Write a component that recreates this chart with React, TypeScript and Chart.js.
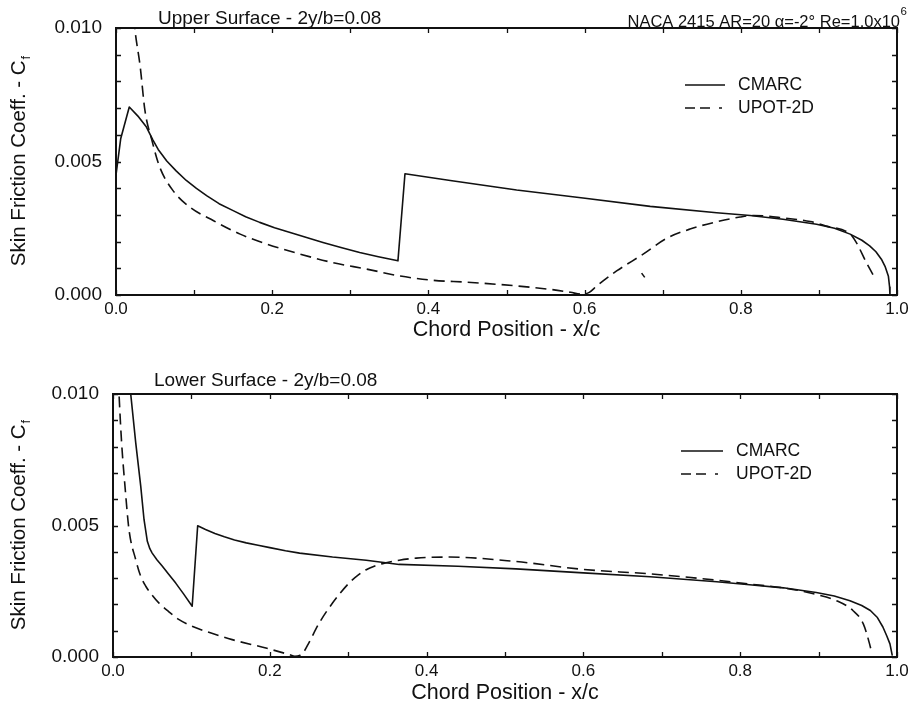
import React, { useEffect, useRef } from "react";
import { Chart, registerables } from "chart.js";

Chart.register(...registerables);

// ------------------------------------------------------------------ data
const xTickValues = [0, 0.2, 0.4, 0.6, 0.8, 1.0];
const yTickValues = [0, 0.005, 0.01];
const xMinorTickValues = [0, 0.1, 0.2, 0.3, 0.4, 0.5, 0.6, 0.7, 0.8, 0.9, 1.0];
const yMinorTickValues = [0, 0.001, 0.002, 0.003, 0.004, 0.005, 0.006, 0.007, 0.008, 0.009, 0.01];

const seriesNames = ["CMARC", "UPOT-2D"];
const upperTitle = "Upper Surface - 2y/b=0.08";
const lowerTitle = "Lower Surface - 2y/b=0.08";
const caseTitle = "NACA 2415 AR=20 α=-2° Re=1.0x10";
const caseTitleSup = "6";
const xAxisTitle = "Chord Position - x/c";
const yAxisTitle = "Skin Friction Coeff. - C";
const yAxisTitleSub = "f";

// Upper surface, CMARC
const upperCmarcX = [0.0, 0.006, 0.017, 0.029, 0.039, 0.047, 0.054, 0.065, 0.077, 0.09, 0.103, 0.116, 0.132, 0.15, 0.166, 0.184, 0.203, 0.223, 0.244, 0.265, 0.288, 0.312, 0.336, 0.361, 0.37, 0.428, 0.513, 0.598, 0.684, 0.769, 0.812, 0.854, 0.897, 0.92, 0.94, 0.955, 0.965, 0.973, 0.98, 0.985, 0.989, 0.9905, 0.991];
const upperCmarcY = [0.0045, 0.00585, 0.00704, 0.00667, 0.00629, 0.00582, 0.00545, 0.00502, 0.00465, 0.00429, 0.00399, 0.00372, 0.00342, 0.00316, 0.00293, 0.00272, 0.00252, 0.00234, 0.00215, 0.00197, 0.00178, 0.00159, 0.00143, 0.00128, 0.00454, 0.00429, 0.00393, 0.00363, 0.00332, 0.00308, 0.00298, 0.00284, 0.00265, 0.0025, 0.00228, 0.00205, 0.00184, 0.00162, 0.00134, 0.00105, 0.0007, 0.0003, 0.0];

// Upper surface, UPOT-2D (last two points: short isolated dash)
const upperUpotX = [0.021, 0.024, 0.031, 0.037, 0.046, 0.056, 0.073, 0.095, 0.125, 0.159, 0.193, 0.236, 0.278, 0.321, 0.364, 0.406, 0.45, 0.513, 0.556, 0.582, 0.596, 0.606, 0.616, 0.641, 0.675, 0.705, 0.735, 0.769, 0.799, 0.816, 0.854, 0.889, 0.91, 0.94, 0.948, 0.961, 0.972, 0.675, 0.673, 0.677];
const upperUpotY = [0.011, 0.01, 0.00855, 0.00692, 0.00579, 0.00479, 0.00391, 0.00328, 0.00278, 0.00228, 0.00191, 0.00153, 0.00121, 0.00097, 0.00071, 0.00055, 0.00048, 0.00034, 0.00021, 0.0001, 0.00003, 0.0001, 0.00035, 0.0009, 0.00153, 0.00212, 0.00247, 0.00274, 0.00292, 0.00298, 0.00289, 0.00275, 0.00258, 0.00228, 0.00196, 0.0012, 0.00062, null, 0.00082, 0.00066];

// Lower surface, CMARC
const lowerCmarcX = [0.02, 0.0226, 0.029, 0.0354, 0.0396, 0.0438, 0.047, 0.05, 0.056, 0.063, 0.071, 0.08, 0.09, 0.101, 0.108, 0.118, 0.13, 0.142, 0.155, 0.17, 0.185, 0.2, 0.22, 0.238, 0.28, 0.323, 0.365, 0.44, 0.514, 0.6, 0.685, 0.77, 0.812, 0.855, 0.897, 0.92, 0.94, 0.955, 0.966, 0.975, 0.982, 0.987, 0.991, 0.994];
const lowerCmarcY = [0.0112, 0.01, 0.00814, 0.00649, 0.00522, 0.0044, 0.00412, 0.00395, 0.0037, 0.00345, 0.00315, 0.00281, 0.0024, 0.00193, 0.00499, 0.00485, 0.0047, 0.00457, 0.00445, 0.00434, 0.00425, 0.00416, 0.00404, 0.00395, 0.0038, 0.00368, 0.00352, 0.00345, 0.00335, 0.0032, 0.00305, 0.00286, 0.00275, 0.00263, 0.00245, 0.00232, 0.00214, 0.00196, 0.00177, 0.0015, 0.00114, 0.0008, 0.0005, 0.00005];

// Lower surface, UPOT-2D
const lowerUpotX = [0.006, 0.0077, 0.011, 0.0153, 0.0204, 0.029, 0.035, 0.0418, 0.05, 0.0587, 0.07, 0.0843, 0.1, 0.118, 0.152, 0.195, 0.225, 0.232, 0.238, 0.243, 0.25, 0.263, 0.28, 0.301, 0.313, 0.323, 0.334, 0.344, 0.365, 0.387, 0.429, 0.514, 0.6, 0.685, 0.77, 0.812, 0.855, 0.897, 0.923, 0.944, 0.957, 0.965, 0.968];
const lowerUpotY = [0.0112, 0.01, 0.00814, 0.00649, 0.00484, 0.0037, 0.0031, 0.00269, 0.00235, 0.00205, 0.00175, 0.00142, 0.00118, 0.00098, 0.00066, 0.00034, 0.00009, 0.00003, 0.00006, 0.00018, 0.00055, 0.00129, 0.00205, 0.00281, 0.00312, 0.00332, 0.00346, 0.00355, 0.00368, 0.00376, 0.0038, 0.00363, 0.00333, 0.00316, 0.00292, 0.00277, 0.00263, 0.00238, 0.00214, 0.00176, 0.00126, 0.0005, 0.00013];

// ------------------------------------------------------------------ layout / style
const FAMILY = "'Liberation Sans', Arial, Helvetica, sans-serif";
const INK = "#111";
const WIDTH = 913;

type PanelSpec = {
  top: number;
  height: number;
  areaLeft: number;
  areaRight: number;
  areaTop: number;
  xAxisHeight: number;
  title: string;
  titleX: number;
  titleDy: number;
  showCase: boolean;
  legendLineX0: number;
  legendLineX1: number;
  legendTextX: number;
  cmarcX: number[];
  cmarcY: (number | null)[];
  upotX: number[];
  upotY: (number | null)[];
};

const panels: PanelSpec[] = [
  {
    top: 0, height: 344, areaLeft: 116, areaRight: 897, areaTop: 28, xAxisHeight: 49,
    title: upperTitle, titleX: 158, titleDy: -4, showCase: true,
    legendLineX0: 685, legendLineX1: 725, legendTextX: 738,
    cmarcX: upperCmarcX, cmarcY: upperCmarcY, upotX: upperUpotX, upotY: upperUpotY,
  },
  {
    top: 344, height: 363, areaLeft: 113, areaRight: 897, areaTop: 50, xAxisHeight: 50,
    title: lowerTitle, titleX: 154, titleDy: -8, showCase: false,
    legendLineX0: 681, legendLineX1: 723, legendTextX: 736,
    cmarcX: lowerCmarcX, cmarcY: lowerCmarcY, upotX: lowerUpotX, upotY: lowerUpotY,
  },
];

function toPoints(xs: number[], ys: (number | null)[]) {
  return xs.map((x, i) => ({ x, y: ys[i] }));
}

const framePlugin = {
  id: "frame",
  afterDatasetsDraw(chart: any, _args: any, opts: any) {
    const s: PanelSpec = opts.spec;
    const { ctx, chartArea: a, scales } = chart;
    const xs = scales.x;
    const ys = scales.y;
    ctx.save();
    ctx.strokeStyle = INK;
    ctx.fillStyle = INK;
    ctx.setLineDash([]);
    // frame
    ctx.lineWidth = 2;
    ctx.strokeRect(a.left, a.top, a.right - a.left, a.bottom - a.top);
    // inward ticks
    ctx.lineWidth = 1.3;
    ctx.beginPath();
    for (const v of xMinorTickValues) {
      const px = Math.round(xs.getPixelForValue(v)) + 0.5;
      ctx.moveTo(px, a.bottom);
      ctx.lineTo(px, a.bottom - 5);
      ctx.moveTo(px, a.top);
      ctx.lineTo(px, a.top + 5);
    }
    for (const v of yMinorTickValues) {
      const py = Math.round(ys.getPixelForValue(v)) + 0.5;
      ctx.moveTo(a.left, py);
      ctx.lineTo(a.left + 5, py);
      ctx.moveTo(a.right, py);
      ctx.lineTo(a.right - 5, py);
    }
    ctx.stroke();

    // panel title
    ctx.textAlign = "left";
    ctx.textBaseline = "alphabetic";
    ctx.font = `19px ${FAMILY}`;
    ctx.fillText(s.title, s.titleX, a.top + s.titleDy);

    // case title (with superscript)
    if (s.showCase) {
      ctx.font = `16.5px ${FAMILY}`;
      const wMain = ctx.measureText(caseTitle).width;
      const xEnd = 900;
      ctx.fillText(caseTitle, xEnd - wMain, a.top - 1.5);
      ctx.font = `11.5px ${FAMILY}`;
      ctx.fillText(caseTitleSup, xEnd + 0.5, a.top - 13);
    }

    // y-axis title with subscript
    ctx.save();
    ctx.translate(19.5, (a.top + a.bottom) / 2);
    ctx.rotate(-Math.PI / 2);
    ctx.textBaseline = "middle";
    ctx.font = `20.5px ${FAMILY}`;
    const w1 = ctx.measureText(yAxisTitle).width;
    ctx.font = `13px ${FAMILY}`;
    const w2 = ctx.measureText(yAxisTitleSub).width;
    const start = -(w1 + w2) / 2;
    ctx.font = `20.5px ${FAMILY}`;
    ctx.fillText(yAxisTitle, start, 0);
    ctx.font = `13px ${FAMILY}`;
    ctx.fillText(yAxisTitleSub, start + w1 + 1, 7);
    ctx.restore();

    // legend
    const legendDy = [57, 80];
    const dashes = [[], [10, 5, 10, 9, 3, 60]];
    ctx.font = `17.5px ${FAMILY}`;
    ctx.textBaseline = "middle";
    chart.data.datasets.forEach((ds: any, i: number) => {
      const y = a.top + legendDy[i];
      ctx.lineWidth = ds.borderWidth;
      ctx.setLineDash(dashes[i]);
      ctx.beginPath();
      ctx.moveTo(s.legendLineX0, y);
      ctx.lineTo(s.legendLineX1, y);
      ctx.stroke();
      ctx.setLineDash([]);
      ctx.fillText(ds.label, s.legendTextX, y + 0.5);
    });
    ctx.restore();
  },
};

function buildConfig(s: PanelSpec): any {
  return {
    type: "scatter",
    data: {
      datasets: [
        {
          label: seriesNames[0],
          data: toPoints(s.cmarcX, s.cmarcY),
          showLine: true,
          borderColor: INK,
          backgroundColor: INK,
          borderWidth: 1.6,
          pointRadius: 0,
          pointHoverRadius: 0,
          tension: 0,
          borderJoinStyle: "round",
        },
        {
          label: seriesNames[1],
          data: toPoints(s.upotX, s.upotY),
          showLine: true,
          borderColor: INK,
          backgroundColor: INK,
          borderWidth: 1.6,
          borderDash: [11, 6],
          pointRadius: 0,
          pointHoverRadius: 0,
          cubicInterpolationMode: "monotone",
          spanGaps: false,
        },
      ],
    },
    options: {
      animation: false,
      responsive: false,
      maintainAspectRatio: false,
      events: [],
      layout: { padding: { left: 0, top: s.areaTop, right: WIDTH - s.areaRight, bottom: 0 } },
      plugins: {
        legend: { display: false },
        tooltip: { enabled: false },
        frame: { spec: s },
      },
      scales: {
        x: {
          type: "linear",
          min: 0,
          max: 1,
          afterBuildTicks: (sc: any) => {
            sc.ticks = xTickValues.map((v) => ({ value: v }));
          },
          ticks: {
            callback: (v: any) => Number(v).toFixed(1),
            font: { family: FAMILY, size: 17 },
            color: INK,
            padding: 4,
            maxRotation: 0,
            autoSkip: false,
          },
          grid: { display: false, drawTicks: false },
          border: { display: false },
          title: {
            display: true,
            text: xAxisTitle,
            font: { family: FAMILY, size: 21.5 },
            color: INK,
            padding: { top: 0, bottom: 1 },
          },
          afterFit: (sc: any) => {
            sc.height = s.xAxisHeight;
          },
        },
        y: {
          type: "linear",
          min: 0,
          max: 0.01,
          afterBuildTicks: (sc: any) => {
            sc.ticks = yTickValues.map((v) => ({ value: v }));
          },
          ticks: {
            callback: (v: any) => Number(v).toFixed(3),
            font: { family: FAMILY, size: 19 },
            color: INK,
            padding: 14,
          },
          grid: { display: false, drawTicks: false },
          border: { display: false },
          afterFit: (sc: any) => {
            sc.width = s.areaLeft;
          },
        },
      },
    },
    plugins: [framePlugin],
  };
}

function Panel({ spec }: { spec: PanelSpec }) {
  const ref = useRef<HTMLCanvasElement>(null);
  useEffect(() => {
    const chart = new Chart(ref.current as HTMLCanvasElement, buildConfig(spec));
    return () => chart.destroy();
  }, [spec]);
  return (
    <canvas
      ref={ref}
      width={WIDTH}
      height={spec.height}
      style={{ position: "absolute", left: 0, top: spec.top, display: "block" }}
    />
  );
}

export default function App() {
  return (
    <div
      style={{
        position: "absolute",
        left: 0,
        top: 0,
        width: WIDTH,
        height: 707,
        background: "#fff",
        overflow: "hidden",
      }}
    >
      {panels.map((p, i) => (
        <Panel key={i} spec={p} />
      ))}
    </div>
  );
}
